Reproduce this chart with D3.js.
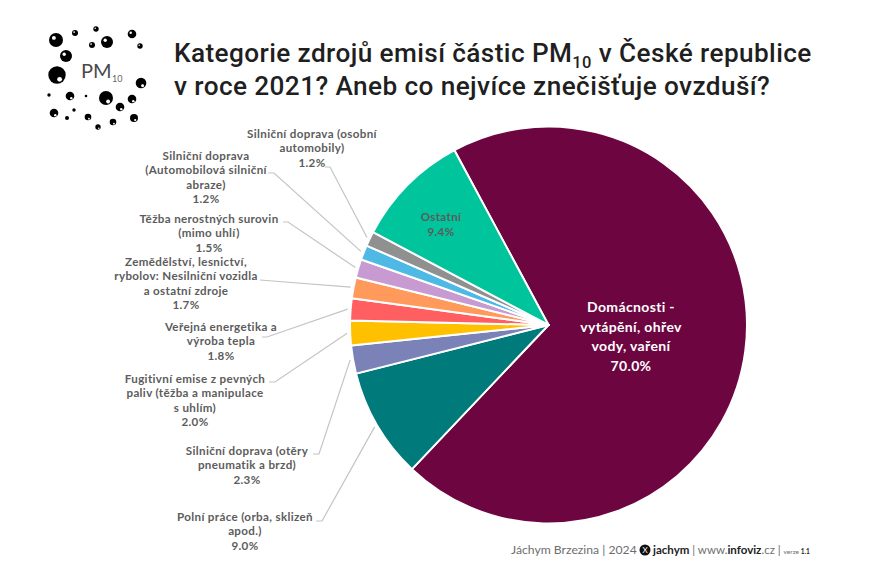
<!DOCTYPE html>
<html lang="cs">
<head>
<meta charset="utf-8">
<script src="https://cdn.jsdelivr.net/npm/d3@7"></script>
<style>
html, body { margin: 0; background: #fff; }
svg { display: block; }
text { font-family: Lato, "Noto Sans", sans-serif; }
.title { font-family: Roboto, sans-serif; font-weight: 500; font-size: 26.2px; fill: #1f1f1f; letter-spacing: 0.4px; }
.lab { font-size: 11.6px; font-weight: 700; fill: #5c5c5c; letter-spacing: 0.35px; }
.leader { fill: none; stroke: #c4c4c4; stroke-width: 1.2; }
</style>
</head>
<body>
<svg id="chart" width="874" height="583"></svg>
<script>
const categories = [
    ["Domácnosti -", "vytápění, ohřev", "vody, vaření"],
    ["Polní práce (orba, sklizeň", "apod.)"],
    ["Silniční doprava (otěry", "pneumatik a brzd)"],
    ["Fugitivní emise z pevných", "paliv (těžba a manipulace", "s uhlím)"],
    ["Veřejná energetika a", "výroba tepla"],
    ["Zemědělství, lesnictví,", "rybolov: Nesilniční vozidla", "a ostatní zdroje"],
    ["Těžba nerostných surovin", "(mimo uhlí)"],
    ["Silniční doprava", "(Automobilová silniční", "abraze)"],
    ["Silniční doprava (osobní", "automobily)"],
    ["Ostatní"]
];
const values = [70.0, 9.0, 2.3, 2.0, 1.8, 1.7, 1.5, 1.2, 1.2, 9.4];
const colors = ["#6c0540", "#007a7a", "#7a82b8", "#ffc000", "#ff5f60", "#ff9a5c", "#c89ad2", "#4fb9e6", "#909090", "#00c49b"];

// where each outside label sits: text centre x, first line y, leader elbow
const labelSpots = [
    null,
    { x: 245, y: 521, elbow: [322, 521], from: 316 },
    { x: 247, y: 455, elbow: [319, 454], from: 313 },
    { x: 195, y: 383, elbow: [275, 382], from: 269 },
    { x: 221, y: 331, elbow: [267, 337], from: 262 },
    { x: 186, y: 266, elbow: [260, 280], from: 260 },
    { x: 209, y: 223, elbow: [288, 222], from: 283 },
    { x: 206, y: 160, elbow: [274, 173], from: 268 },
    { x: 312, y: 138, elbow: [330, 167], from: 325 },
    null
];

// logo particles: x, y, r
const logoDots = [
    [56, 40, 7], [75, 33, 3], [96, 29, 2.7], [92, 45, 3], [107, 42, 6], [132, 34, 4.3], [140, 46, 2.7],
    [66, 56, 6], [57, 75, 8.7], [141, 83, 5.3], [49, 95, 1.7], [70, 96, 4.3], [86, 96, 1.3], [106, 98, 7],
    [132, 99, 4.3], [120, 107, 4.3], [54, 113, 4.3], [74, 110, 1.7], [67, 118, 2], [88, 117, 3.3],
    [113, 122, 3.3], [134, 118, 4], [98, 127, 2.7]
];

const svg = d3.select("#chart");
const cx = 548.5, cy = 325, radius = 198.5;

const startAngle = -28.3 * Math.PI / 180;
const pie = d3.pie().sort(null).startAngle(startAngle).endAngle(startAngle + 2 * Math.PI);
const arcs = pie(values);
const arc = d3.arc().innerRadius(0).outerRadius(radius);

const g = svg.append("g").attr("transform", `translate(${cx},${cy})`);
g.selectAll("path")
    .data(arcs)
    .enter()
    .append("path")
    .attr("d", arc)
    .attr("fill", (d, i) => colors[i])
    .attr("stroke", "#fff")
    .attr("stroke-width", 2)
    .attr("stroke-linejoin", "round");

function pct(v) { return v.toFixed(1) + "%"; }

function multiline(x, y, lines, cls, lh) {
    const t = svg.append("text").attr("class", cls).attr("text-anchor", "middle");
    lines.forEach((s, i) => {
        t.append("tspan").attr("x", x).attr("y", y + i * lh).text(s);
    });
    return t;
}

// leaders + outside labels
arcs.forEach((d, i) => {
    const spot = labelSpots[i];
    if (!spot) return;
    const mid = (d.startAngle + d.endAngle) / 2;
    const px = cx + Math.sin(mid) * (radius + 3);
    const py = cy - Math.cos(mid) * (radius + 3);
    const pts = [[spot.from, spot.elbow[1]], spot.elbow, [px, py]];
    svg.append("path").attr("class", "leader").attr("d", d3.line()(pts));
    multiline(spot.x, spot.y, categories[i].concat(pct(values[i])), "lab", 14.4);
});

// inside labels
multiline(441, 221, categories[9].concat(pct(values[9])), "lab", 15);
multiline(631, 312, categories[0].concat(pct(values[0])), "lab", 19.6)
    .style("font-size", "14px").style("fill", "#fff").style("font-weight", 700);

// title
const t1 = svg.append("text").attr("class", "title").attr("x", 174).attr("y", 62);
t1.append("tspan").text("Kategorie zdrojů emisí částic PM");
t1.append("tspan").attr("dy", 6).style("font-size", "16.5px").text("10");
t1.append("tspan").attr("dy", -6).text(" v České republice");
svg.append("text").attr("class", "title").attr("x", 174).attr("y", 95)
    .text("v roce 2021? Aneb co nejvíce znečišťuje ovzduší?");

// logo
const logo = svg.append("g");
logo.selectAll("circle.d").data(logoDots).enter().append("circle")
    .attr("cx", d => d[0]).attr("cy", d => d[1]).attr("r", d => d[2]).attr("fill", "#000");
logo.selectAll("circle.h").data(logoDots.filter(d => d[2] > 2.5)).enter().append("circle")
    .attr("cx", d => d[0] + (d[1] > 60 ? d[2] * 0.3 : -d[2] * 0.3))
    .attr("cy", d => d[1] + (d[1] > 60 ? d[2] * 0.5 : -d[2] * 0.3))
    .attr("r", d => d[2] * 0.28).attr("fill", "#fff");
svg.append("text").attr("x", 81).attr("y", 78).style("font-size", "20px").attr("fill", "#4a4a4a").text("PM");
svg.append("text").attr("x", 112).attr("y", 82).style("font-size", "9px").attr("fill", "#666").text("10");

// footer
const foot = svg.append("text").attr("x", 511).attr("y", 554).style("font-size", "12.2px").attr("fill", "#6e6e6e");
foot.append("tspan").text("Jáchym Brzezina | 2024");
svg.append("circle").attr("cx", 645).attr("cy", 550).attr("r", 5.5).attr("fill", "#111");
svg.append("text").attr("x", 645).attr("y", 553).attr("text-anchor", "middle").style("font-size", "8px").attr("fill", "#fff").text("X");
const foot2 = svg.append("text").attr("x", 653).attr("y", 554).style("font-size", "11.5px").attr("fill", "#6e6e6e");
foot2.append("tspan").attr("fill", "#222").style("font-weight", 700).text("jachym");
foot2.append("tspan").text(" | www.");
foot2.append("tspan").attr("fill", "#222").style("font-weight", 700).text("infoviz");
foot2.append("tspan").text(".cz | ");
foot2.append("tspan").style("font-size", "6.5px").text("verze ");
foot2.append("tspan").style("font-size", "6.5px").style("font-weight", 700).attr("fill", "#222").text("1.1");
</script>
</body>
</html>
